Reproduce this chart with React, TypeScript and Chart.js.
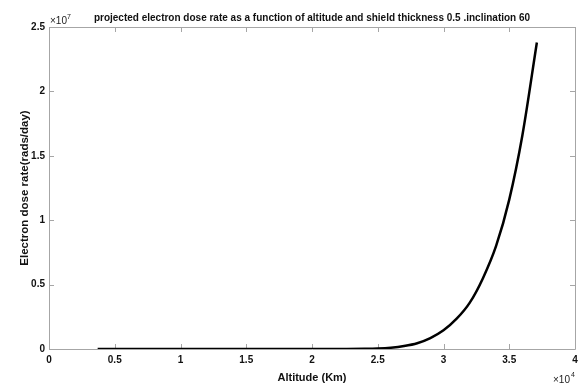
import React, { useEffect, useRef } from "react";
import { Chart, registerables } from "chart.js";

Chart.register(...registerables);

// Altitude (km) and projected electron dose rate (rads/day)
const altitudeKm = [3700, 5000, 10000, 15000, 20000, 22000, 24000, 25000, 26000, 27000, 28000, 29000, 30000, 31000, 32000, 33000, 34000, 35000, 36000, 37100];
const doseRate = [0, 0, 0, 0, 0, 3000, 12000, 35000, 100000, 230000, 450000, 850000, 1450000, 2350000, 3600000, 5500000, 8000000, 11600000, 16600000, 23800000];

const xTickValues = [0, 5000, 10000, 15000, 20000, 25000, 30000, 35000, 40000];
const yTickValues = [0, 5000000, 10000000, 15000000, 20000000, 25000000];

const titleText = "projected electron dose rate as a function of altitude and shield thickness 0.5 .inclination 60";
const xTitle = "Altitude (Km)";
const yTitle = "Electron dose rate(rads/day)";

const FONT = "'Liberation Sans', Arial, sans-serif";

const framePlugin = {
  id: "matlabFrame",
  beforeDatasetsDraw(chart: any) {
    const { ctx, chartArea } = chart;
    const { left, right, top, bottom } = chartArea;
    const xs = chart.scales.x;
    const ys = chart.scales.y;
    ctx.save();
    ctx.strokeStyle = "#a6a6a6";
    ctx.lineWidth = 1;
    ctx.beginPath();
    ctx.rect(Math.round(left) + 0.5, Math.round(top) + 0.5, Math.round(right - left), Math.round(bottom - top));
    ctx.stroke();
    ctx.beginPath();
    const tl = 5;
    xTickValues.forEach((v) => {
      const px = Math.round(xs.getPixelForValue(v)) + 0.5;
      ctx.moveTo(px, bottom);
      ctx.lineTo(px, bottom - tl);
      ctx.moveTo(px, top);
      ctx.lineTo(px, top + tl);
    });
    yTickValues.forEach((v) => {
      const py = Math.round(ys.getPixelForValue(v)) + 0.5;
      ctx.moveTo(left, py);
      ctx.lineTo(left + tl, py);
      ctx.moveTo(right, py);
      ctx.lineTo(right - tl, py);
    });
    ctx.stroke();
    ctx.restore();
  },
  afterDraw(chart: any) {
    const { ctx, chartArea } = chart;
    const { left, right, top } = chartArea;
    ctx.save();
    ctx.fillStyle = "#222";
    ctx.textBaseline = "alphabetic";
    ctx.textAlign = "left";
    // y multiplier
    ctx.font = `10px ${FONT}`;
    ctx.fillText("\u00d710", left + 1, top - 3);
    ctx.font = `7px ${FONT}`;
    ctx.fillText("7", left + 18, top - 8);
    // x multiplier
    ctx.font = `10px ${FONT}`;
    ctx.fillText("\u00d710", right - 22, 383);
    ctx.font = `7px ${FONT}`;
    ctx.fillText("4", right - 4, 377);
    ctx.restore();
  },
};

export default function App() {
  const canvasRef = useRef<HTMLCanvasElement | null>(null);

  useEffect(() => {
    const canvas = canvasRef.current;
    if (!canvas) return;
    const points = altitudeKm.map((a, i) => ({ x: a, y: doseRate[i] }));
    const chart = new Chart(canvas, {
      type: "line",
      data: {
        datasets: [
          {
            data: points,
            borderColor: "#000000",
            borderWidth: 2.5,
            pointRadius: 0,
            fill: false,
            cubicInterpolationMode: "monotone",
          },
        ],
      },
      options: {
        responsive: false,
        animation: false,
        layout: { padding: { left: 0, right: 12, top: 0, bottom: 0 } },
        plugins: {
          legend: { display: false },
          tooltip: { enabled: false },
          title: {
            display: true,
            fullSize: false,
            text: titleText,
            color: "#111",
            font: { family: FONT, size: 10, weight: "bold" },
            padding: { top: 12, bottom: 3 },
          },
        },
        scales: {
          x: {
            type: "linear",
            min: 0,
            max: 40000,
            grid: { display: false, drawTicks: false },
            border: { display: false },
            afterBuildTicks: (scale: any) => {
              scale.ticks = xTickValues.map((v) => ({ value: v }));
            },
            afterFit: (scale: any) => {
              scale.height = 36;
            },
            ticks: {
              padding: 5,
              color: "#111",
              font: { family: FONT, size: 10, weight: "bold" },
              maxRotation: 0,
              callback: (v: any) => String(Number(v) / 10000),
            },
            title: {
              display: true,
              text: xTitle,
              color: "#111",
              font: { family: FONT, size: 11, weight: "bold" },
              padding: { top: 1.4, bottom: 0 },
            },
          },
          y: {
            type: "linear",
            min: 0,
            max: 25000000,
            grid: { display: false, drawTicks: false },
            border: { display: false },
            afterBuildTicks: (scale: any) => {
              scale.ticks = yTickValues.map((v) => ({ value: v }));
            },
            afterFit: (scale: any) => {
              scale.width = 49;
            },
            ticks: {
              padding: 4,
              color: "#111",
              font: { family: FONT, size: 10, weight: "bold" },
              callback: (v: any) => String(Number(v) / 10000000),
            },
            title: {
              display: true,
              text: yTitle,
              color: "#111",
              font: { family: FONT, size: 11.5, weight: "bold" },
              padding: { top: 18, bottom: 0 },
            },
          },
        },
      },
      plugins: [framePlugin],
    });
    return () => chart.destroy();
  }, []);

  return (
    <div style={{ position: "absolute", left: 0, top: 0, width: 587, height: 385, background: "#fff" }}>
      <canvas ref={canvasRef} width={587} height={385} style={{ display: "block" }} />
    </div>
  );
}
